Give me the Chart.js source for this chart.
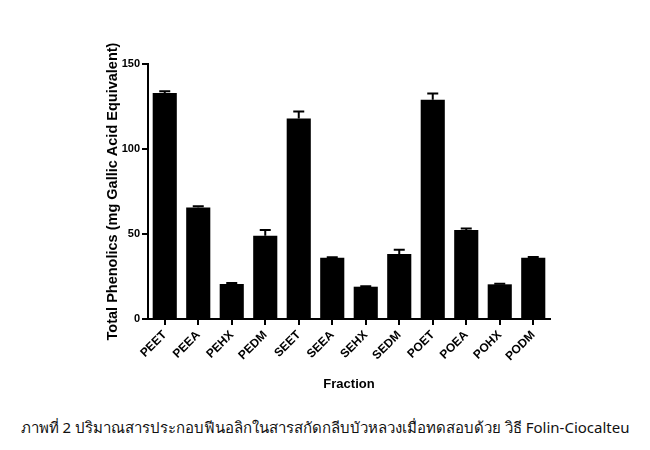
<!DOCTYPE html>
<html>
<head>
<meta charset="utf-8">
<script src="https://cdn.jsdelivr.net/npm/chart.js@4"></script>
<style>
  html, body { margin: 0; padding: 0; background: #fff; }
  #wrap { position: relative; width: 650px; height: 450px; }
  #chart { position: absolute; left: 0; top: 0; }
  #caption {
    position: absolute; left: 0; top: 416px; width: 650px;
    text-align: center; font-family: "Noto Sans", "DejaVu Sans", sans-serif;
    font-size: 15px; color: #111; white-space: nowrap;
  }
</style>
</head>
<body>
<div id="wrap">
  <canvas id="chart" width="650" height="400"></canvas>
  <div id="caption">ภาพที่ 2 ปริมาณสารประกอบฟีนอลิกในสารสกัดกลีบบัวหลวงเมื่อทดสอบด้วย วิธี Folin-Ciocalteu</div>
</div>
<script>
const fractions = ["PEET", "PEEA", "PEHX", "PEDM", "SEET", "SEEA", "SEHX", "SEDM", "POET", "POEA", "POHX", "PODM"];
const phenolics = [133, 65.6, 20.6, 49, 118, 36, 19, 38.2, 129, 52.3, 20.4, 36];
const phenolicsErr = [1, 0.7, 0.6, 3.4, 4, 0.3, 0.3, 2.6, 3.7, 1, 0.4, 0.4];
const yTicks = [0, 50, 100, 150];

const font = "'Liberation Sans', Arial, sans-serif";

// upper error bars, drawn through the y scale
const errorBars = {
  id: "errorBars",
  afterDatasetsDraw(chart) {
    const meta = chart.getDatasetMeta(0);
    const y = chart.scales.y;
    const c = chart.ctx;
    c.save();
    c.strokeStyle = "#000";
    c.lineWidth = 2;
    meta.data.forEach((bar, i) => {
      const top = y.getPixelForValue(phenolics[i] + phenolicsErr[i]);
      const base = y.getPixelForValue(phenolics[i]);
      c.beginPath();
      c.moveTo(bar.x, base);
      c.lineTo(bar.x, top);
      c.moveTo(bar.x - 5.5, top);
      c.lineTo(bar.x + 5.5, top);
      c.stroke();
    });
    c.restore();
  },
};

const ctx = document.getElementById("chart").getContext("2d");
new Chart(ctx, {
  type: "bar",
  data: {
    labels: fractions,
    datasets: [{
      data: phenolics,
      backgroundColor: "#000",
      borderWidth: 0,
      barPercentage: 0.72,
      categoryPercentage: 1,
    }],
  },
  options: {
    responsive: false,
    animation: false,
    layout: { padding: { left: 104, right: 100, top: 64, bottom: 8 } },
    plugins: {
      legend: { display: false },
      tooltip: { enabled: false },
    },
    scales: {
      x: {
        offset: true,
        border: { display: true, color: "#000", width: 2 },
        grid: { display: true, drawOnChartArea: false, color: "#000", lineWidth: 2, tickLength: 6, offset: false },
        ticks: {
          color: "#000", maxRotation: 45, minRotation: 45, padding: 3,
          font: { family: font, size: 12, weight: "bold" },
        },
        title: {
          display: true, text: "Fraction", color: "#000", padding: 0,
          font: { family: font, size: 13, weight: "bold" },
        },
        afterFit(scale) { scale.height = 73; },
      },
      y: {
        min: 0,
        max: 150,
        afterBuildTicks(scale) { scale.ticks = yTicks.map((v) => ({ value: v })); },
        border: { display: true, color: "#000", width: 2 },
        grid: { display: true, drawOnChartArea: false, color: "#000", lineWidth: 2, tickLength: 6 },
        ticks: {
          color: "#000", padding: 2,
          font: { family: font, size: 11, weight: "bold" },
        },
        title: {
          display: true, text: "Total Phenolics (mg Gallic Acid Equivalent)", color: "#000", padding: 0,
          font: { family: font, size: 14.5, weight: "bold" },
        },
        afterFit(scale) { scale.width = 44; },
      },
    },
  },
  plugins: [errorBars],
});
</script>
</body>
</html>
